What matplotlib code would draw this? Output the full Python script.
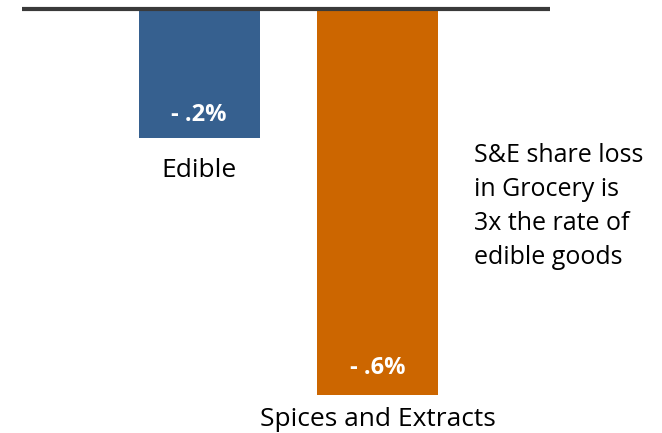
import matplotlib.pyplot as plt

plt.rcParams['font.family'] = ['Open Sans', 'DejaVu Sans']

# data
categories = ["Edible", "Spices and Extracts"]
share_change = [-0.2, -0.6]
value_labels = ["- .2%", "- .6%"]
bar_colors = ["#36608F", "#CC6600"]
note = "S&E share loss\nin Grocery is\n3x the rate of\nedible goods"

fig = plt.figure(figsize=(6.62, 4.33), dpi=100)
ax = fig.add_axes([0, 0, 1, 1])

x = list(range(len(categories)))
ax.bar(x, share_change, width=0.678, color=bar_colors, zorder=2)

# zero line across the top
ax.hlines(0, -0.99, 1.966, color="#3a3a3a", linewidth=3, zorder=3)

# label offsets (points) from the bar end: value inside, category below
val_off = [12, 15.5]
cat_off = [-28, -22.5]
for xi, v, lab, cat, vo, co in zip(x, share_change, value_labels, categories,
                                   val_off, cat_off):
    ax.annotate(lab, (xi, v), xytext=(0, vo), textcoords="offset points",
                ha="center", va="baseline", color="white", fontsize=17,
                fontweight="bold")
    ax.annotate(cat, (xi, v), xytext=(0, co), textcoords="offset points",
                ha="center", va="baseline", color="black", fontsize=19)

ax.text(1.54, -0.209, note, ha="left", va="top", fontsize=18,
        linespacing=1.47, color="black")

ax.set_xlim(-1.115, 2.594)
ax.set_ylim(-0.659, 0.014)
ax.axis("off")

plt.savefig("out.png", dpi=100)
